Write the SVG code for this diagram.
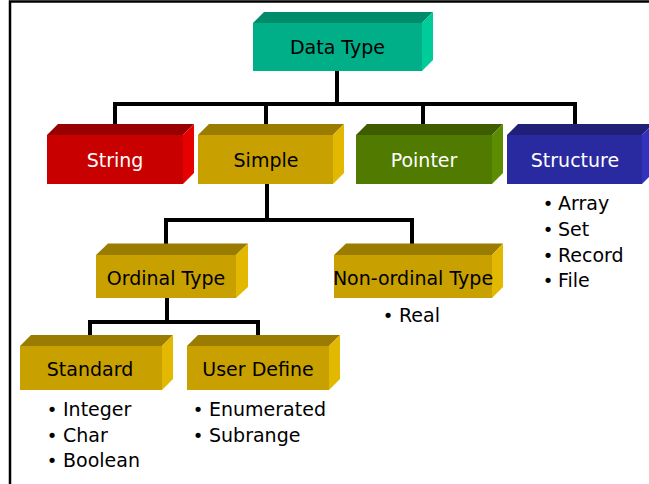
<svg xmlns="http://www.w3.org/2000/svg" width="649" height="484" viewBox="0 0 649 484">
  <style>
    text { font-family: "DejaVu Sans", Verdana, sans-serif; font-size: 19px; }
    .lbl { text-anchor: middle; }
    .dark { fill: #000000; }
    .light { fill: #ffffff; }
    .bul { text-anchor: middle; font-size: 18px; }
    .wire { fill: none; stroke: #000000; stroke-width: 4; stroke-linecap: square; }
    .frame { fill: none; stroke: #000000; stroke-width: 2.5; }
    .teal .f { fill: #00AE88; } .teal .t { fill: #008B6B; } .teal .s { fill: #00CC99; }
    .red .f { fill: #C80000; } .red .t { fill: #990000; } .red .s { fill: #E60000; }
    .gold .f { fill: #C8A000; } .gold .t { fill: #9A7C00; } .gold .s { fill: #E2B800; }
    .green .f { fill: #507A00; } .green .t { fill: #3E5C00; } .green .s { fill: #5C8C00; }
    .blue .f { fill: #2A2AA0; } .blue .t { fill: #20207A; } .blue .s { fill: #3232C0; }
  </style>

  <!-- page frame: top and left rules -->
  <path class="frame" d="M10,484 V1.5 H649"/>

  <!-- connectors -->
  <g id="connectors">
    <path class="wire" d="M337,71 V104 M115,104 H575 M115,104 V135 M266,104 V135 M423,104 V135 M575,104 V135"/>
    <path class="wire" d="M267,184 V220 M166,220 H412 M166,220 V255 M412,220 V255"/>
    <path class="wire" d="M167,298 V322 M90,322 H258 M90,322 V346 M258,322 V346"/>
  </g>

  <!-- 3D boxes: front face, top face, right face -->
  <g id="data-type" class="teal">
    <polygon class="t" points="253,23 264,12 433,12 422,23"/>
    <polygon class="s" points="422,23 433,12 433,60 422,71"/>
    <rect class="f" x="253" y="23" width="169" height="48"/>
    <text class="lbl dark" x="337.5" y="54">Data Type</text>
  </g>

  <g id="string" class="red">
    <polygon class="t" points="47,135 58,124 194,124 183,135"/>
    <polygon class="s" points="183,135 194,124 194,173 183,184"/>
    <rect class="f" x="47" y="135" width="136" height="49"/>
    <text class="lbl light" x="115" y="167">String</text>
  </g>

  <g id="simple" class="gold">
    <polygon class="t" points="198,135 209,124 344,124 333,135"/>
    <polygon class="s" points="333,135 344,124 344,173 333,184"/>
    <rect class="f" x="198" y="135" width="135" height="49"/>
    <text class="lbl dark" x="266" y="167">Simple</text>
  </g>

  <g id="pointer" class="green">
    <polygon class="t" points="356,135 367,124 503,124 492,135"/>
    <polygon class="s" points="492,135 503,124 503,173 492,184"/>
    <rect class="f" x="356" y="135" width="136" height="49"/>
    <text class="lbl light" x="424" y="167">Pointer</text>
  </g>

  <g id="structure" class="blue">
    <polygon class="t" points="507,135 518,124 653,124 642,135"/>
    <polygon class="s" points="642,135 653,124 653,173 642,184"/>
    <rect class="f" x="507" y="135" width="135" height="49"/>
    <text class="lbl light" x="575" y="167">Structure</text>
    <text class="bul dark" x="548" y="210">•</text><text class="dark" x="558" y="210">Array</text>
    <text class="bul dark" x="548" y="236">•</text><text class="dark" x="558" y="236">Set</text>
    <text class="bul dark" x="548" y="262">•</text><text class="dark" x="558" y="262">Record</text>
    <text class="bul dark" x="548" y="287">•</text><text class="dark" x="558" y="287">File</text>
  </g>

  <g id="ordinal-type" class="gold">
    <polygon class="t" points="96,255 108,243.5 248,243.5 236,255"/>
    <polygon class="s" points="236,255 248,243.5 248,287 236,298"/>
    <rect class="f" x="96" y="255" width="140" height="43"/>
    <text class="lbl dark" x="166" y="285">Ordinal Type</text>
  </g>

  <g id="non-ordinal-type" class="gold">
    <polygon class="t" points="334,255 346,243.5 503,243.5 492,255"/>
    <polygon class="s" points="492,255 503,243.5 503,287 492,298"/>
    <rect class="f" x="334" y="255" width="158" height="43"/>
    <text class="lbl dark" x="413" y="285">Non-ordinal Type</text>
    <text class="bul dark" x="388" y="322">•</text><text class="dark" x="399" y="322">Real</text>
  </g>

  <g id="standard" class="gold">
    <polygon class="t" points="20,346 31,335 173,335 162,346"/>
    <polygon class="s" points="162,346 173,335 173,379 162,390"/>
    <rect class="f" x="20" y="346" width="142" height="44"/>
    <text class="lbl dark" x="90" y="376">Standard</text>
    <text class="bul dark" x="52" y="416">•</text><text class="dark" x="63" y="416">Integer</text>
    <text class="bul dark" x="52" y="442">•</text><text class="dark" x="63" y="442">Char</text>
    <text class="bul dark" x="52" y="467">•</text><text class="dark" x="63" y="467">Boolean</text>
  </g>

  <g id="user-define" class="gold">
    <polygon class="t" points="187,346 198,335 340,335 329,346"/>
    <polygon class="s" points="329,346 340,335 340,379 329,390"/>
    <rect class="f" x="187" y="346" width="142" height="44"/>
    <text class="lbl dark" x="258" y="376">User Define</text>
    <text class="bul dark" x="198" y="416">•</text><text class="dark" x="209" y="416">Enumerated</text>
    <text class="bul dark" x="198" y="442">•</text><text class="dark" x="209" y="442">Subrange</text>
  </g>
</svg>
